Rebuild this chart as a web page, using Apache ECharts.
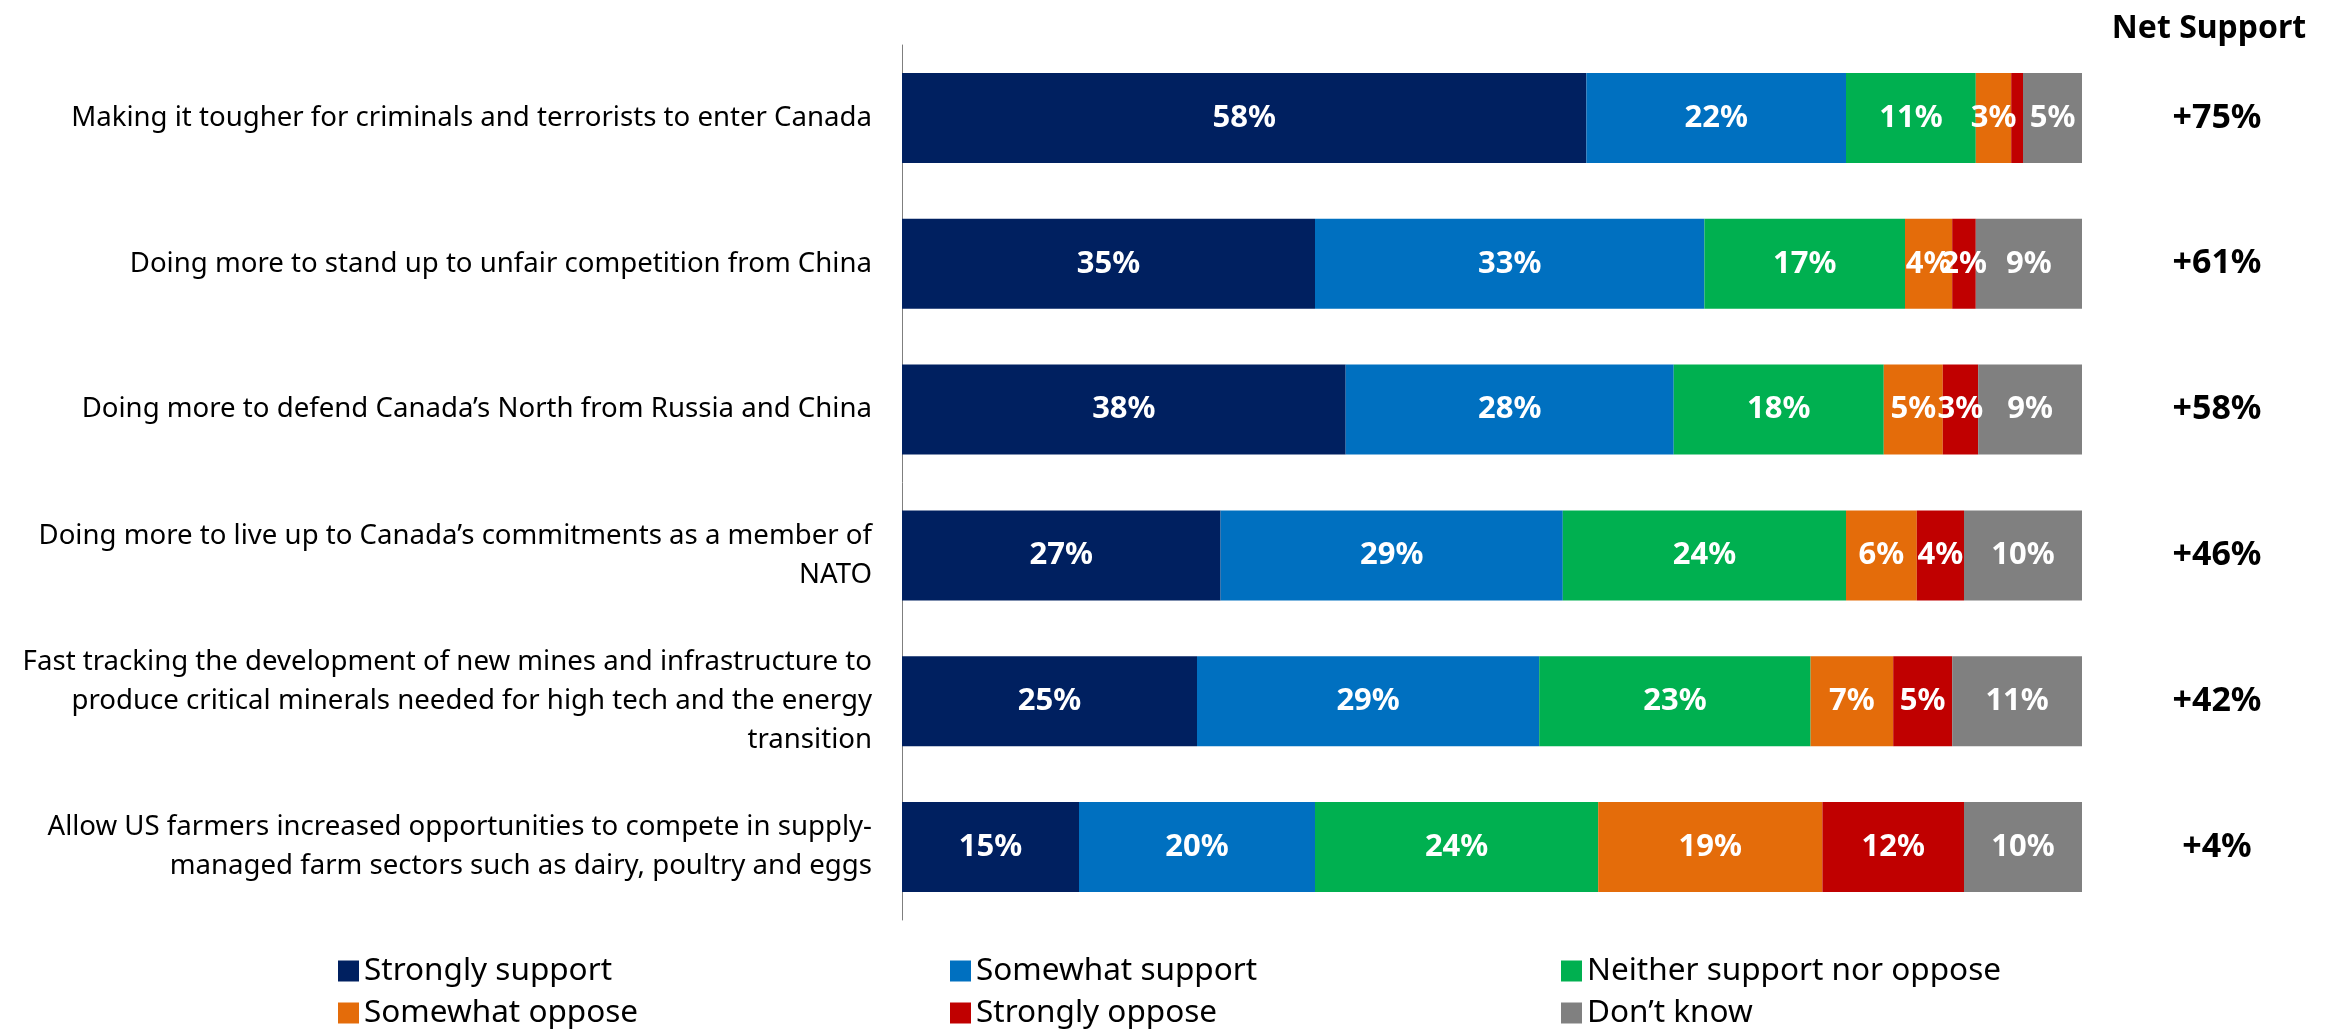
<!DOCTYPE html>
<html>
<head>
<meta charset="utf-8">
<script src="https://cdn.jsdelivr.net/npm/echarts@6/dist/echarts.min.js"></script>
<style>
html,body{margin:0;padding:0;background:#fff;}
#chart{width:2349px;height:1029px;}
</style>
</head>
<body>
<div id="chart"></div>
<script>
const categories = [
  "Making it tougher for criminals and terrorists to enter Canada",
  "Doing more to stand up to unfair competition from China",
  "Doing more to defend Canada\u2019s North from Russia and China",
  "Doing more to live up to Canada\u2019s commitments as a member of\nNATO",
  "Fast tracking the development of new mines and infrastructure to\nproduce critical minerals needed for high tech and the energy\ntransition",
  "Allow US farmers increased opportunities to compete in supply-\nmanaged farm sectors such as dairy, poultry and eggs"
];
const stronglySupport = [58, 35, 37.6, 27, 25, 15];
const somewhatSupport = [22, 33, 27.8, 29, 29, 20];
const neitherSupport  = [11, 17, 17.8, 24, 23, 24];
const somewhatOppose  = [3, 4, 5, 6, 7, 19];
const stronglyOppose  = [1, 2, 3, 4, 5, 12];
const dontKnow        = [5, 9, 8.8, 10, 11, 10];
const netSupport = ["+75%", "+61%", "+58%", "+46%", "+42%", "+4%"];

const seriesNames = ["Strongly support", "Somewhat support", "Neither support nor oppose", "Somewhat oppose", "Strongly oppose", "Don\u2019t know"];
const seriesData = [stronglySupport, somewhatSupport, neitherSupport, somewhatOppose, stronglyOppose, dontKnow];
const colors = ["#002060", "#0070C0", "#00B050", "#E46C0A", "#C00000", "#808080"];

const FONT = "Noto Sans";

const chart = echarts.init(document.getElementById('chart'));
const series = seriesNames.map((name, i) => ({
  name: name,
  type: 'bar',
  stack: 'total',
  barWidth: 90,
  data: seriesData[i],
  itemStyle: { color: colors[i] },
  label: {
    show: true,
    position: 'inside',
    color: '#fff',
    fontFamily: FONT,
    fontWeight: 'bold',
    fontSize: 31,
    formatter: p => p.value < 1.5 ? '' : Math.round(p.value) + '%'
  }
}));

const legendCols = [333, 945, 1556];
const legendRows = [950, 992];
const legends = seriesNames.map((name, i) => ({
  data: [name],
  left: legendCols[i % 3],
  top: legendRows[Math.floor(i / 3)],
  itemWidth: 21,
  itemHeight: 21,
  itemGap: 8,
  icon: 'rect',
  textStyle: { fontFamily: FONT, fontSize: 31.5, color: '#000', padding: [0, 0, 0, 0] }
}));

chart.setOption({
  animation: false,
  color: colors,
  grid: { left: 902, right: 267, top: 45, bottom: 109, containLabel: false },
  xAxis: {
    type: 'value', min: 0, max: 100, show: false
  },
  yAxis: [
    {
      type: 'category',
      data: categories,
      inverse: true,
      axisLine: { show: true, lineStyle: { color: '#7f7f7f', width: 1 } },
      axisTick: { show: false },
      axisLabel: {
        fontFamily: FONT, fontSize: 27.6, color: '#000', margin: 30,
        lineHeight: 39, align: 'right'
      }
    },
    {
      type: 'category',
      data: netSupport,
      inverse: true,
      position: 'right',
      axisLine: { show: false },
      axisTick: { show: false },
      axisLabel: {
        fontFamily: FONT, fontSize: 34, fontWeight: 'bold', color: '#000',
        margin: 135, align: 'center'
      }
    }
  ],
  legend: legends,
  graphic: [{
    type: 'text',
    x: 2209,
    y: 29,
    style: { text: 'Net Support', fontFamily: FONT, fontSize: 32, fontWeight: 'bold', fill: '#000', align: 'center', verticalAlign: 'middle' }
  }],
  series: series
});
</script>
</body>
</html>
